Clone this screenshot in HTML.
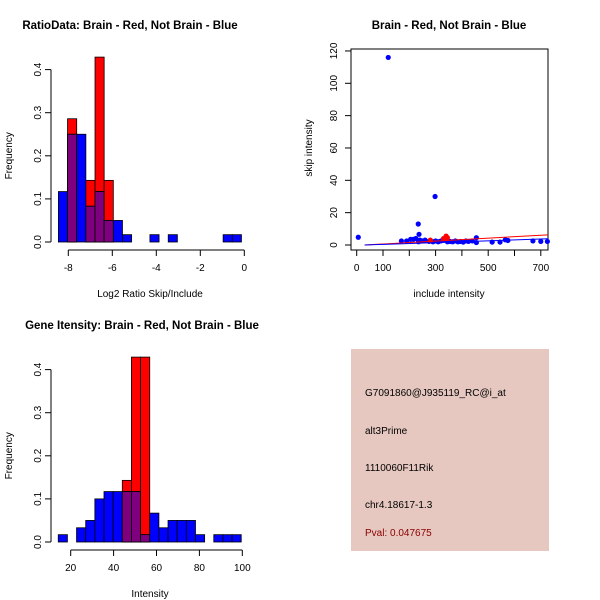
<!DOCTYPE html>
<html><head><meta charset="utf-8"><style>
body{margin:0;background:#fff;}
svg{display:block;font-family:"Liberation Sans",sans-serif;}
.t{font-weight:bold;font-size:11.5px;}
.a{font-size:10px;}
</style></head><body>
<svg id="s" width="600" height="600" xmlns="http://www.w3.org/2000/svg">
<rect width="600" height="600" fill="#fff"/>
</svg>
<script>
// ---- data ----
const ratioBlue=[0.117,0.25,0.25,0.083,0.117,0.05,0.05,0.017,0,0,0.017,0,0.017,0,0,0,0,0,0.017,0.017];
const ratioRed=[0,0.286,0,0.143,0.429,0.143,0,0,0,0,0,0,0,0,0,0,0,0,0,0];
const ratioStart=-8.45, ratioWidth=0.416;
const ratioXTicks=[-8,-6,-4,-2,0];
const freqTicks=[0,0.1,0.2,0.3,0.4];
const intBlue=[0.017,0,0.033,0.05,0.1,0.117,0.117,0.117,0.117,0.017,0.067,0.033,0.05,0.05,0.05,0.017,0,0.017,0.017,0.017];
const intRed=[0,0,0,0,0,0,0,0.143,0.429,0.429,0,0,0,0,0,0,0,0,0,0];
const intStart=14.2, intWidth=4.265;
const intXTicks=[20,40,60,80,100];
const scBlueX=[6,120,298,234,237,170,190,205,215,225,235,240,250,260,275,290,300,310,320,330,345,355,365,375,385,395,405,415,425,440,455,455,515,545,565,575,670,700,725];
const scBlueY=[4.8,116,30,13,6.6,2.5,2.5,3.5,3.5,4,2,3,2.5,3,2.2,2,2.5,2,2.5,3,2,2.2,2,2.5,2,2.2,1.8,2.5,2.2,2.5,4.5,1.5,1.8,1.8,3.2,2.8,2.5,2.2,2.2];
const scRedX=[280,330,340,345];
const scRedY=[3,4,5.5,4.5];
const scXTicks=[0,100,200,300,400,500,600,700];
const scXLabels=["0","100","","300","","500","","700"];
const scYTicks=[0,20,40,60,80,100,120];
const blueLine=[[30,0],[750,4]];
const redLine=[[30,0],[750,6.5]];

const S=document.getElementById('s');
const NS='http://www.w3.org/2000/svg';
function el(tag,attrs,txt){const e=document.createElementNS(NS,tag);for(const k in attrs)e.setAttribute(k,attrs[k]);if(txt!==undefined)e.textContent=txt;S.appendChild(e);return e;}

function hist(o){
  const fx=v=>o.x0+(v-o.xv0)*o.kx, fy=v=>o.y0-v*o.ky;
  const t=el('text',{x:o.tx,y:o.ty,class:'t','text-anchor':'middle'},o.title);
  
  for(let i=0;i<o.blue.length;i++){
    const l=fx(o.start+i*o.w), r=fx(o.start+(i+1)*o.w);
    const b=o.blue[i], rd=o.red[i];
    if(rd>0){const e=el('rect',{x:l,y:fy(rd),width:r-l,height:fy(0)-fy(rd),fill:'#ff0000',stroke:'#000','stroke-width':0.8});
      }
    if(b>0){const e=el('rect',{x:l,y:fy(b),width:r-l,height:fy(0)-fy(b),fill:'#0000ff',stroke:'#000','stroke-width':0.8});
      }
    const m=Math.min(b,rd);
    if(m>0){const e=el('rect',{x:l,y:fy(m),width:r-l,height:fy(0)-fy(m),fill:'#7f007f',stroke:'#000','stroke-width':0.8});
      }
  }
  el('line',{x1:51,x2:51,y1:fy(0),y2:fy(0.4),stroke:'#000'});
  o.yt.forEach(v=>{el('line',{x1:45,x2:51,y1:fy(v),y2:fy(v),stroke:'#000'});
    const t=el('text',{x:0,y:0,class:'a','text-anchor':'middle',transform:`translate(41,${fy(v)}) rotate(-90)`},v===0?'0.0':String(v));
    });
  const yl=el('text',{x:0,y:0,class:'a','text-anchor':'middle',transform:`translate(12,${fy(0.2)}) rotate(-90)`},'Frequency');
  
  const ay=o.y0+8;
  el('line',{x1:fx(o.xt[0]),x2:fx(o.xt[o.xt.length-1]),y1:ay,y2:ay,stroke:'#000'});
  o.xt.forEach(v=>{el('line',{x1:fx(v),x2:fx(v),y1:ay,y2:ay+6,stroke:'#000'});
    const t=el('text',{x:fx(v),y:ay+21,class:'a','text-anchor':'middle'},String(v));
    });
  const xl=el('text',{x:150,y:ay+47,class:'a','text-anchor':'middle'},o.xlab);
  
}
hist({id:'ratio-hist',title:'RatioData: Brain - Red, Not Brain - Blue',tx:130,ty:29,blue:ratioBlue,red:ratioRed,start:ratioStart,w:ratioWidth,
  x0:68.3,xv0:-8,kx:22,y0:242,ky:431,yt:freqTicks,xt:ratioXTicks,xlab:'Log2 Ratio Skip/Include'});
hist({id:'intensity-hist',title:'Gene Itensity: Brain - Red, Not Brain - Blue',tx:142,ty:329,blue:intBlue,red:intRed,start:intStart,w:intWidth,
  x0:70.7,xv0:20,kx:2.145,y0:542,ky:431,yt:freqTicks,xt:intXTicks,xlab:'Intensity'});

// scatter
const sx=v=>356.7+v*0.263, sy=v=>245-v*1.617;
const st=el('text',{x:449,y:29,class:'t','text-anchor':'middle'},'Brain - Red, Not Brain - Blue');

const box=el('rect',{x:351,y:49,width:197,height:201,fill:'none',stroke:'#000'});

scXTicks.forEach((v,i)=>{el('line',{x1:sx(v),x2:sx(v),y1:250,y2:256,stroke:'#000'});
  if(scXLabels[i]){const t=el('text',{x:sx(v),y:271,class:'a','text-anchor':'middle'},scXLabels[i]);
  }});
scYTicks.forEach(v=>{el('line',{x1:345,x2:351,y1:sy(v),y2:sy(v),stroke:'#000'});
  const t=el('text',{x:0,y:0,class:'a','text-anchor':'middle',transform:`translate(337,${sy(v)}) rotate(-90)`},String(v));
  });
const sxl=el('text',{x:449,y:297,class:'a','text-anchor':'middle'},'include intensity');

const syl=el('text',{x:0,y:0,class:'a','text-anchor':'middle',transform:`translate(312,148) rotate(-90)`},'skip intensity');

scBlueX.forEach((x,i)=>{const c=el('circle',{cx:sx(x),cy:sy(scBlueY[i]),r:2.6,fill:'#0000ff'});
  });
scRedX.forEach((x,i)=>{const c=el('circle',{cx:sx(x),cy:sy(scRedY[i]),r:2.6,fill:'#ff0000'});
  });
const cx=v=>Math.min(548,sx(v));
const xEnd=(548-356.7)/0.263;
function lineY(L){return L[0][1]+(L[1][1]-L[0][1])*(xEnd-L[0][0])/(L[1][0]-L[0][0]);}
const rl=el('line',{x1:sx(redLine[0][0]),y1:sy(redLine[0][1]),x2:cx(redLine[1][0]),y2:sy(lineY(redLine)),stroke:'#ff0000'});

const bl=el('line',{x1:sx(blueLine[0][0]),y1:sy(blueLine[0][1]),x2:cx(blueLine[1][0]),y2:sy(lineY(blueLine)),stroke:'#0000ff'});


// info panel
const p=el('rect',{x:351,y:349,width:198,height:202,fill:'#e6c8c0'});

[['G7091860@J935119_RC@i_at',396,'#000','probe-id'],['alt3Prime',434,'#000','event-type'],['1110060F11Rik',471,'#000','gene-name'],['chr4.18617-1.3',508,'#000','location'],['Pval: 0.047675',536,'#8b0000','p-value']].forEach(d=>{
  const t=el('text',{x:365,y:d[1],class:'a',fill:d[2]},d[0]);
  });
</script>
</body></html>
